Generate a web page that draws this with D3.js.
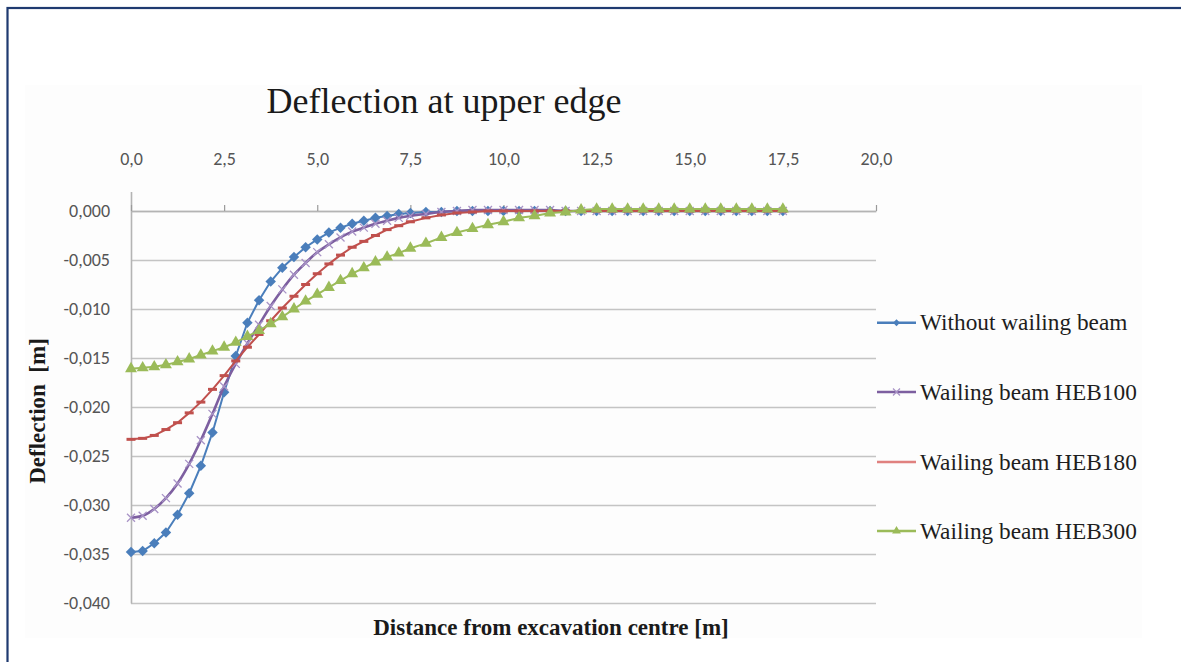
<!DOCTYPE html>
<html>
<head>
<meta charset="utf-8">
<script src="https://cdn.jsdelivr.net/npm/d3@7"></script>
<style>
  html, body { margin: 0; padding: 0; background: #ffffff; }
  svg { display: block; }
</style>
</head>
<body>
<svg id="chart" width="1181" height="662"></svg>
<script>
// Distance from excavation centre [m] (mesh nodes)
const distance = [
  0, 0.3125, 0.625, 0.9375, 1.25, 1.5625, 1.875, 2.1875, 2.5, 2.8125,
  3.125, 3.4375, 3.75, 4.0625, 4.375, 4.6875, 5, 5.3125, 5.625, 5.9375,
  6.25, 6.5625, 6.875, 7.1875, 7.5, 7.917, 8.333, 8.75, 9.167, 9.583,
  10, 10.417, 10.833, 11.25, 11.667, 12.083, 12.5, 12.917, 13.333, 13.75,
  14.167, 14.583, 15, 15.417, 15.833, 16.25, 16.667, 17.083, 17.5
];

// Deflection [m] of each configuration
const withoutBeam = [
  -0.0348, -0.0347, -0.0339, -0.0328, -0.0310, -0.0288, -0.0260, -0.0226, -0.0185, -0.0148,
  -0.0114, -0.0091, -0.0072, -0.0058, -0.0047, -0.0037, -0.0029, -0.0022, -0.0017, -0.0013,
  -0.0010, -0.0007, -0.0005, -0.0003, -0.0002, -0.0001, -0.0001, 0, 0, 0,
  0, 0, 0, 0, 0, 0, 0, 0, 0, 0,
  0, 0, 0, 0, 0, 0, 0, 0, 0
];
const heb100 = [
  -0.0313, -0.0311, -0.0304, -0.0293, -0.0278, -0.0258, -0.0234, -0.0207, -0.0179, -0.0156,
  -0.0135, -0.0116, -0.0097, -0.0080, -0.0065, -0.0053, -0.0042, -0.0034, -0.0027, -0.0021,
  -0.0017, -0.0013, -0.0010, -0.0007, -0.0005, -0.0003, -0.0001, 0, 0.0001, 0.0001,
  0.0001, 0.0001, 0.0001, 0.0001, 0, 0, 0, 0, 0, 0,
  0, 0, 0, 0, 0, 0, 0, 0, 0
];
const heb180 = [
  -0.0233, -0.0232, -0.0229, -0.0223, -0.0216, -0.0206, -0.0195, -0.0182, -0.0168, -0.0153,
  -0.0139, -0.0126, -0.0112, -0.0099, -0.0087, -0.0075, -0.0064, -0.0054, -0.0045, -0.0037,
  -0.0031, -0.0025, -0.0019, -0.0015, -0.0011, -0.0007, -0.0004, -0.0002, -0.0001, 0,
  0, 0, 0, 0, 0, 0, 0, 0, 0, 0,
  0, 0, 0, 0, 0, 0, 0, 0, 0
];
const heb300 = [
  -0.0161, -0.0160, -0.0159, -0.0157, -0.0154, -0.0151, -0.0147, -0.0143, -0.0139, -0.0134,
  -0.0128, -0.0122, -0.0115, -0.0108, -0.0100, -0.0092, -0.0085, -0.0078, -0.0071, -0.0064,
  -0.0058, -0.0052, -0.0047, -0.0043, -0.0038, -0.0033, -0.0027, -0.0022, -0.0018, -0.0014,
  -0.0011, -0.0007, -0.0005, -0.0002, -0.0001, 0.0001, 0.0002, 0.0002, 0.0002, 0.0002,
  0.0002, 0.0002, 0.0002, 0.0002, 0.0002, 0.0002, 0.0002, 0.0002, 0.0002
];

const seriesNames = ["Without wailing beam", "Wailing beam HEB100", "Wailing beam HEB180", "Wailing beam HEB300"];
const xTicks = [0, 2.5, 5, 7.5, 10, 12.5, 15, 17.5, 20];
const yTicks = [0, -0.005, -0.010, -0.015, -0.020, -0.025, -0.030, -0.035, -0.040];

const chartTitle = "Deflection at upper edge";
const xTitle = "Distance from excavation centre [m]";
const yTitle = "Deflection  [m]";

// ---------- layout ----------
const svg = d3.select("#chart");
const plot = { left: 131, right: 876, top: 191.4, bottom: 603 };

const x = d3.scaleLinear().domain([0, 20]).range([plot.left, plot.right]);
const y = d3.scaleLinear().domain([-0.04, 0.002]).range([plot.bottom, plot.top]);

const locale = d3.formatLocale({ decimal: ",", thousands: ".", grouping: [3], currency: ["", ""], minus: "-" });
const fmtX = locale.format(".1f");
const fmtY = locale.format(".3f");

const serif = "'Liberation Serif', 'Times New Roman', serif";
const sans = "Carlito, Lato, 'Liberation Sans', sans-serif";

// frame and chart area
svg.append("rect").attr("x", 7.5).attr("y", 8).attr("width", 1200).attr("height", 700)
  .attr("fill", "#ffffff").attr("stroke", "#1f3a70").attr("stroke-width", 2.2);
svg.append("rect").attr("x", 25).attr("y", 85).attr("width", 1117).attr("height", 553)
  .attr("fill", "#fdfdfd");

// horizontal gridlines
const grid = svg.append("g").attr("transform", `translate(${plot.left},0)`)
  .call(d3.axisLeft(y).tickValues(yTicks).tickSize(-(plot.right - plot.left)).tickFormat(""));
grid.select(".domain").remove();
grid.selectAll("line").attr("stroke", "#c4c4c4").attr("stroke-width", 1.6);

// vertical axis line and labels
const yAxis = svg.append("g").attr("transform", `translate(${plot.left},0)`)
  .call(d3.axisLeft(y).tickValues(yTicks).tickSize(0).tickPadding(21).tickFormat(fmtY));
yAxis.select(".domain").attr("stroke", "#b4b4b4").attr("stroke-width", 1.6);
yAxis.selectAll("text").attr("font-family", sans).attr("font-size", 18).attr("fill", "#555555");

// horizontal axis crossing at zero, ticks pointing up
const xAxis = svg.append("g").attr("transform", `translate(0,${y(0)})`)
  .call(d3.axisTop(x).tickValues(xTicks).tickSizeInner(6).tickSizeOuter(0).tickFormat(""));
xAxis.select(".domain").attr("stroke", "#b4b4b4").attr("stroke-width", 1.6);
xAxis.selectAll("line").attr("stroke", "#9a9a9a").attr("stroke-width", 1.2);

// distance labels placed above the plot area
const xLabels = svg.append("g").attr("transform", `translate(0,${plot.top})`)
  .call(d3.axisTop(x).tickValues(xTicks).tickSize(0).tickPadding(26).tickFormat(fmtX));
xLabels.select(".domain").remove();
xLabels.selectAll("text").attr("font-family", sans).attr("font-size", 18).attr("fill", "#555555");

// ---------- series ----------
const seriesData = [withoutBeam, heb100, heb180, heb300];
const colors = ["#4a7ebb", "#7d5fa0", "#c0504d", "#9bbb59"];
const markerColors = ["#4a7ebb", "#a893c6", "#c0504d", "#9bbb59"];
const curves = [d3.curveLinear, d3.curveMonotoneX, d3.curveLinear, d3.curveLinear];
const widths = [2, 2.6, 2, 2];

function drawMarker(g, kind, color) {
  if (kind === 0) {
    g.append("path").attr("d", d3.symbol(d3.symbolDiamond2, 70)()).attr("fill", color);
  } else if (kind === 1) {
    g.append("path").attr("d", "M-4,-4L4,4M-4,4L4,-4").attr("stroke", color).attr("stroke-width", 1.3).attr("fill", "none");
  } else if (kind === 2) {
    g.append("path").attr("d", "M-4.5,0L4.5,0").attr("stroke", color).attr("stroke-width", 3).attr("fill", "none");
  } else {
    g.append("path").attr("d", d3.symbol(d3.symbolTriangle, 62)()).attr("fill", color);
  }
}

seriesData.forEach((vals, si) => {
  const pts = distance.map((d, i) => [d, vals[i]]);
  const line = d3.line().x(d => x(d[0])).y(d => y(d[1])).curve(curves[si]);
  const g = svg.append("g");
  g.append("path").datum(pts).attr("d", line)
    .attr("fill", "none").attr("stroke", colors[si]).attr("stroke-width", widths[si])
    .attr("stroke-linejoin", "round");
  g.selectAll("g.mk").data(pts).join("g").attr("class", "mk")
    .attr("transform", d => `translate(${x(d[0])},${y(d[1])})`)
    .each(function () { drawMarker(d3.select(this), si, markerColors[si]); });
});

// ---------- legend ----------
const legendY = [322.7, 392, 462, 531];
const legendLine = ["#4a7ebb", "#7d5fa0", "#e0817f", "#9bbb59"];
const legend = svg.append("g");
seriesNames.forEach((name, i) => {
  const g = legend.append("g").attr("transform", `translate(0,${legendY[i]})`);
  g.append("line").attr("x1", 877).attr("x2", 916).attr("y1", 0).attr("y2", 0)
    .attr("stroke", legendLine[i]).attr("stroke-width", 2.4);
  if (i !== 2) {
    const m = g.append("g").attr("transform", "translate(896.5,0)");
    if (i === 0) m.append("path").attr("d", d3.symbol(d3.symbolDiamond2, 30)()).attr("fill", colors[0]);
    if (i === 1) m.append("path").attr("d", "M-3.5,-3.5L3.5,3.5M-3.5,3.5L3.5,-3.5").attr("stroke", "#a893c6").attr("stroke-width", 1.2);
    if (i === 3) m.append("path").attr("d", d3.symbol(d3.symbolTriangle, 34)()).attr("fill", colors[3]);
  }
  g.append("text").attr("x", 920).attr("y", 7.5).text(name)
    .attr("font-family", serif).attr("font-size", 23.3).attr("fill", "#1e1e1e");
});

// ---------- titles ----------
svg.append("text").attr("x", 444).attr("y", 113).attr("text-anchor", "middle")
  .attr("font-family", serif).attr("font-size", 36).attr("fill", "#1a1a1a").text(chartTitle);

svg.append("text").attr("x", 551).attr("y", 635).attr("text-anchor", "middle")
  .attr("font-family", serif).attr("font-weight", "bold").attr("font-size", 23).attr("fill", "#1a1a1a").text(xTitle);

svg.append("text").attr("transform", "translate(45,411) rotate(-90)").attr("text-anchor", "middle")
  .attr("font-family", serif).attr("font-weight", "bold").attr("font-size", 23).attr("fill", "#1a1a1a")
  .style("white-space", "pre").text(yTitle);
</script>
</body>
</html>
